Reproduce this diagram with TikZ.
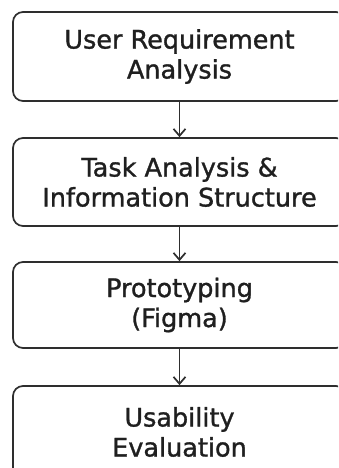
\documentclass[tikz,border=0pt]{standalone}
\usepackage{fontspec}
\setmainfont{DejaVu Sans}[FakeBold=1.2]
\usetikzlibrary{arrows.meta}
\begin{document}
\begin{tikzpicture}[x=1pt,y=1pt,
  stagebox/.style={draw=linegray, line width=1.7pt, rounded corners=10pt, fill=white,
    minimum width=333pt, align=center, inner sep=0pt,
    font=\fontsize{25.5}{30}\selectfont, text=black!88},
  flow/.style={draw=linegray, line width=1.7pt, -{Straight Barb[length=7pt,width=12pt,line width=1.7pt]}}]
\definecolor{linegray}{HTML}{2E2E2E}
\useasboundingbox (0,0) rectangle (338,468);
\clip (0,0) rectangle (338,468);
\fill[white] (0,0) rectangle (338,468);
\node[stagebox, minimum height=89pt] (a) at (179.5,411.5) {User Requirement\\Analysis};
\node[stagebox, minimum height=88pt] (b) at (179.5,286) {Task Analysis \&\\Information Structure};
\node[stagebox, minimum height=86pt] (c) at (179.5,163) {Prototyping\\(Figma)};
\node[stagebox, minimum height=92pt] (d) at (179.5,36) {Usability\\Evaluation};
\draw[flow] (a.south) -- (b.north);
\draw[flow] (b.south) -- (c.north);
\draw[flow] (c.south) -- (d.north);
\end{tikzpicture}
\end{document}
